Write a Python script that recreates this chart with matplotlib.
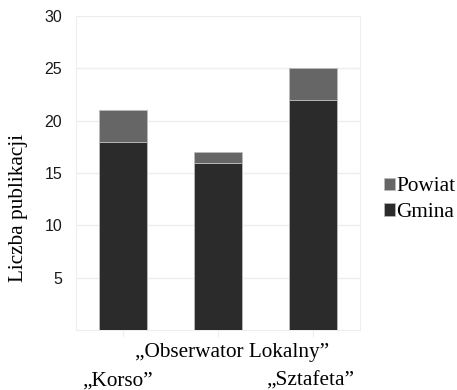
import numpy as np
import matplotlib
matplotlib.use("Agg")
import matplotlib.pyplot as plt
from matplotlib.patches import Patch

# dane
gazety = ["\u201eKorso\u201d", "\u201eObserwator Lokalny\u201d", "\u201eSztafeta\u201d"]
gmina = [18, 16, 22]
powiat = [3, 1, 3]
y_ticks = [5, 10, 15, 20, 25, 30]

c_gmina = "#2b2b2b"
c_powiat = "#666666"
serif = ["Liberation Serif", "DejaVu Serif"]
fs = 15.3

fig = plt.figure(figsize=(4.57, 3.90), dpi=100)
ax = fig.add_axes([0.1663, 0.1538, 0.6214, 0.805])

x = np.arange(len(gmina))
ax.bar(x, gmina, width=0.5, color=c_gmina, edgecolor="#bbbbbb", linewidth=0.6, zorder=3)
ax.bar(x, powiat, width=0.5, bottom=gmina, color=c_powiat, edgecolor="#bbbbbb", linewidth=0.6, zorder=3)

ax.set_xlim(-0.495, 2.495)
ax.set_ylim(0, 30)
ax.set_yticks(y_ticks)
ax.set_yticklabels([str(t) for t in y_ticks], family="Liberation Sans", fontsize=11.5, color="#1a1a1a")
ax.tick_params(axis="y", length=0, pad=10)
ax.yaxis.grid(True, color="#eeeeee", linewidth=1, zorder=0)

# etykiety osi x na dwoch poziomach
ax.set_xticks(x)
ax.set_xticklabels([])
ax.tick_params(axis="x", length=5, color="#eeeeee")
trans = ax.get_xaxis_transform()
offs = [-0.06, 0.15, -0.03]
levels = [-0.178, -0.086, -0.178]
for i, name in enumerate(gazety):
    ax.text(x[i] + offs[i], levels[i], name, transform=trans, ha="center", va="baseline",
            family=serif, fontsize=fs)

ax.spines["top"].set_visible(False)
for s in ["left", "right", "bottom"]:
    ax.spines[s].set_color("#eeeeee")

fig.text(19 / 457, 1 - 207.5 / 390, "Liczba publikacji", rotation=90, ha="center", va="center",
         family=serif, fontsize=fs)

handles = [Patch(facecolor=c_powiat, edgecolor="#bbbbbb", linewidth=0.5, label="Powiat"),
           Patch(facecolor=c_gmina, edgecolor="#bbbbbb", linewidth=0.5, label="Gmina")]
fig.legend(handles=handles, loc="center left", bbox_to_anchor=(384 / 457, 0.488),
           frameon=False, prop={"family": serif, "size": fs},
           handlelength=0.5, handleheight=0.5, handletextpad=0.08, labelspacing=0.32,
           borderpad=0, borderaxespad=0)

fig.savefig("out.png", dpi=100)
